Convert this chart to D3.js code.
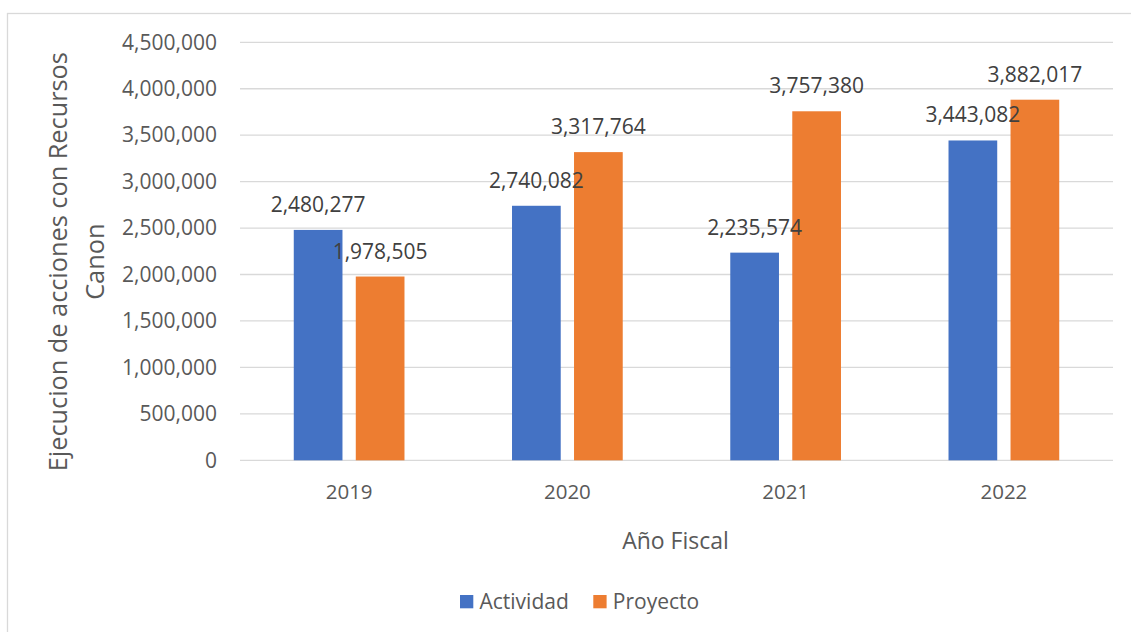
<!DOCTYPE html>
<html><head><meta charset="utf-8">
<script src="https://cdn.jsdelivr.net/npm/d3@7"></script>
<style>body{margin:0;background:#fff;} svg{display:block;}</style>
</head><body>
<svg id="chart" width="1131" height="632"></svg>
<script>
const categories = ["2019", "2020", "2021", "2022"];
const seriesNames = ["Actividad", "Proyecto"];
const actividad = [2480277, 2740082, 2235574, 3443082];
const proyecto = [1978505, 3317764, 3757380, 3882017];
const yTicks = [0, 500000, 1000000, 1500000, 2000000, 2500000, 3000000, 3500000, 4000000, 4500000];
const colors = ["#4472C4", "#ED7D31"];
const yTitleLines = ["Ejecucion de acciones con Recursos", "Canon"];
const xTitle = "Año Fiscal";

const font = "'Open Sans', sans-serif";
const svg = d3.select("#chart");
svg.append("rect").attr("x", 7.5).attr("y", 13.5).attr("width", 1300).attr("height", 800)
  .attr("fill", "#fff").attr("stroke", "#D9D9D9").attr("stroke-width", 1.3);

const x0 = d3.scaleBand().domain(categories).range([240, 1113]).padding(0);
const x1 = d3.scaleBand().domain(seriesNames).range([0, x0.bandwidth()])
  .paddingInner(0.2145).paddingOuter(0.867);
const y = d3.scaleLinear().domain([0, 4500000]).range([460.3, 42.3]);
const fmt = d3.format(",");

// y axis labels
const yAxis = d3.axisLeft(y).tickValues(yTicks).tickFormat(fmt).tickSize(0).tickPadding(23);
const gy = svg.append("g").attr("transform", "translate(240,0)").call(yAxis);
gy.select(".domain").remove();
gy.selectAll("text").attr("font-family", font).attr("font-size", 21).attr("fill", "#595959");
// gridlines
svg.append("g").selectAll("line").data(yTicks).join("line")
  .attr("x1", 240).attr("x2", 1113).attr("y1", d => y(d)).attr("y2", d => y(d))
  .attr("stroke", "#D9D9D9").attr("stroke-width", 1.3);

const data = categories.map((c, i) => ({cat: c, vals: [
  {s: seriesNames[0], v: actividad[i]}, {s: seriesNames[1], v: proyecto[i]}]}));

const groups = svg.append("g").selectAll("g").data(data).join("g")
  .attr("transform", d => `translate(${x0(d.cat)},0)`);
groups.selectAll("rect").data(d => d.vals).join("rect")
  .attr("x", d => x1(d.s)).attr("width", x1.bandwidth())
  .attr("y", d => y(d.v)).attr("height", d => y(0) - y(d.v))
  .attr("fill", (d, i) => colors[i]);
groups.selectAll("text").data(d => d.vals).join("text")
  .attr("x", d => x1(d.s) + x1.bandwidth() / 2).attr("y", d => y(d.v) - 18)
  .attr("text-anchor", "middle").attr("font-family", font).attr("font-size", 21)
  .attr("fill", "#404040").text(d => fmt(d.v));

// x axis labels
const xAxis = d3.axisBottom(x0).tickSize(0).tickPadding(24);
const gx = svg.append("g").attr("transform", "translate(0,460.3)").call(xAxis);
gx.select(".domain").remove();
gx.selectAll("text").attr("font-family", font).attr("font-size", 20.5).attr("fill", "#595959");

svg.append("text").attr("x", 675.5).attr("y", 549).attr("text-anchor", "middle")
  .attr("font-family", font).attr("font-size", 23).attr("fill", "#595959").text(xTitle);

const yt = svg.append("text").attr("transform", "translate(0,261.7) rotate(-90)")
  .attr("text-anchor", "middle").attr("font-family", font).attr("font-size", 25.3).attr("fill", "#595959");
yTitleLines.forEach((t, i) => yt.append("tspan").attr("x", 0).attr("y", 66.7 + i * 37.3).text(t));

// legend
const legX = [460, 593.3];
const leg = svg.append("g").selectAll("g").data(seriesNames).join("g")
  .attr("transform", (d, i) => `translate(${legX[i]},0)`);
leg.append("rect").attr("x", 0).attr("y", 595).attr("width", 13.3).attr("height", 13.3)
  .attr("fill", (d, i) => colors[i]);
leg.append("text").attr("x", 19.5).attr("y", 609).attr("font-family", font).attr("font-size", 21)
  .attr("fill", "#595959").text(d => d);
</script>
</body></html>
